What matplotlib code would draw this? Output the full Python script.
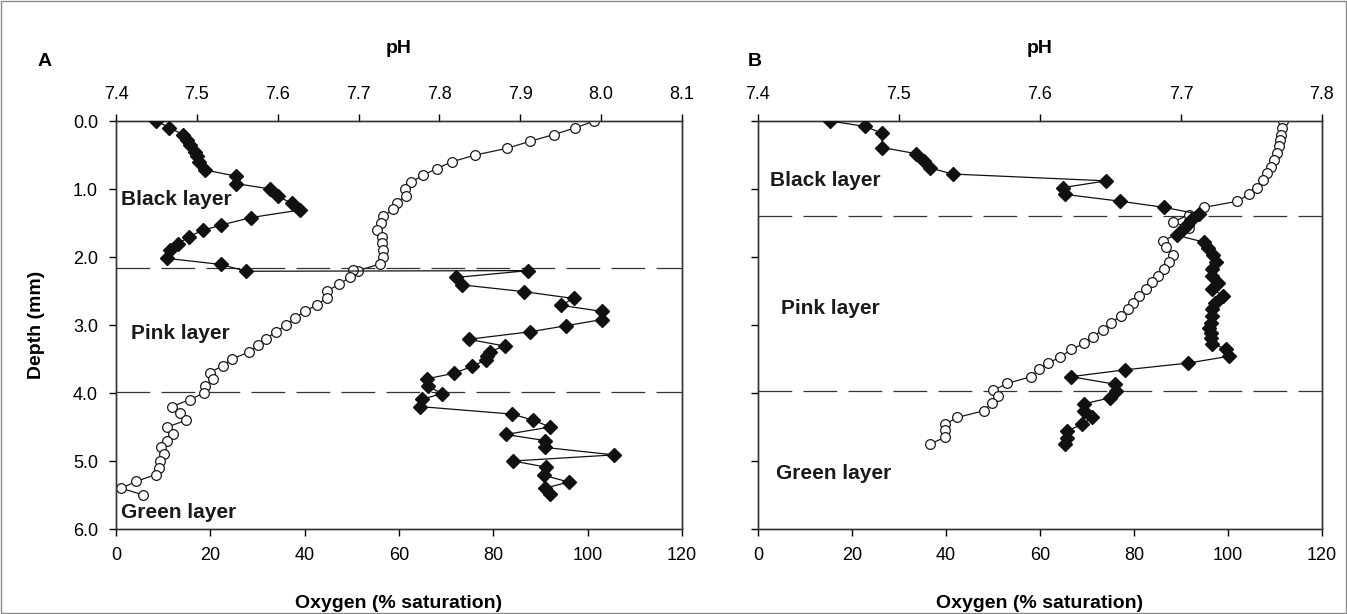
import matplotlib
matplotlib.use('Agg')
import matplotlib.pyplot as plt
from matplotlib.patches import Rectangle

plt.rcParams['font.family'] = ['Liberation Sans', 'DejaVu Sans']

# panel A - pH (filled diamonds, top axis)
a_ph_depth = [0.0, 0.1, 0.2, 0.28, 0.35, 0.45, 0.52, 0.6, 0.72, 0.81, 0.92, 1.0, 1.11, 1.21, 1.31,
              1.42, 1.53, 1.61, 1.70, 1.81, 1.90, 2.02, 2.11, 2.21, 2.20, 2.30, 2.41, 2.51, 2.61,
              2.71, 2.80, 2.92, 3.01, 3.10, 3.21, 3.31, 3.39, 3.46, 3.51, 3.61, 3.71, 3.79, 3.90,
              4.01, 4.09, 4.20, 4.31, 4.40, 4.50, 4.61, 4.70, 4.80, 4.91, 5.00, 5.09, 5.21, 5.31,
              5.40, 5.49]
a_ph = [7.450, 7.466, 7.483, 7.488, 7.492, 7.498, 7.500, 7.503, 7.510, 7.548, 7.548, 7.591, 7.600,
        7.618, 7.627, 7.567, 7.530, 7.507, 7.490, 7.477, 7.467, 7.463, 7.530, 7.561, 7.910, 7.821,
        7.828, 7.905, 7.966, 7.950, 8.001, 8.001, 7.957, 7.912, 7.836, 7.881, 7.862, 7.859, 7.858,
        7.840, 7.818, 7.785, 7.786, 7.803, 7.779, 7.776, 7.890, 7.916, 7.937, 7.882, 7.931, 7.930,
        8.016, 7.891, 7.932, 7.929, 7.960, 7.930, 7.937]

# panel A - oxygen (open circles, bottom axis)
a_o2_depth = [0.0, 0.1, 0.2, 0.3, 0.4, 0.5, 0.6, 0.7, 0.8, 0.9, 1.0, 1.1, 1.2, 1.3, 1.4, 1.5, 1.6,
              1.7, 1.8, 1.9, 2.0, 2.1, 2.2, 2.19, 2.3, 2.4, 2.5, 2.6, 2.7, 2.8, 2.9, 3.0, 3.1, 3.2,
              3.3, 3.4, 3.5, 3.6, 3.7, 3.8, 3.9, 4.0, 4.1, 4.2, 4.3, 4.4, 4.5, 4.6, 4.7, 4.8, 4.9,
              5.0, 5.1, 5.2, 5.3, 5.4, 5.5]
a_o2 = [101.4, 97.4, 92.8, 87.7, 83.0, 76.2, 71.2, 68.0, 65.0, 62.6, 61.3, 61.5, 59.6, 58.7, 56.7,
        56.2, 55.3, 56.4, 56.5, 56.7, 56.7, 56.0, 51.4, 50.3, 49.6, 47.3, 44.8, 44.7, 42.7, 40.0,
        37.9, 36.0, 34.0, 31.8, 30.1, 28.1, 24.6, 22.6, 19.9, 20.5, 18.8, 18.7, 15.6, 11.8, 13.5,
        14.9, 10.9, 12.0, 10.9, 9.5, 10.1, 9.4, 9.2, 8.4, 4.3, 1.1, 5.8]

# panel B - pH
b_ph_depth = [0.0, 0.08, 0.18, 0.39, 0.48, 0.59, 0.69, 0.78, 0.88, 0.98, 1.08, 1.18, 1.27, 1.37,
              1.46, 1.53, 1.58, 1.68, 1.78, 1.87, 1.97, 2.08, 2.18, 2.28, 2.38, 2.47, 2.57, 2.67,
              2.77, 2.87, 2.97, 3.04, 3.12, 3.19, 3.28, 3.35, 3.46, 3.56, 3.66, 3.76, 3.87, 3.97,
              4.07, 4.16, 4.26, 4.36, 4.46, 4.56, 4.66, 4.75]
b_ph = [7.451, 7.476, 7.488, 7.488, 7.512, 7.518, 7.522, 7.538, 7.647, 7.616, 7.618, 7.657, 7.688,
        7.713, 7.707, 7.704, 7.702, 7.697, 7.716, 7.719, 7.723, 7.725, 7.722, 7.722, 7.726, 7.722,
        7.730, 7.724, 7.722, 7.722, 7.721, 7.720, 7.721, 7.721, 7.722, 7.732, 7.734, 7.705, 7.660,
        7.622, 7.653, 7.654, 7.650, 7.631, 7.631, 7.637, 7.630, 7.619, 7.619, 7.618]

# panel B - oxygen
b_o2_depth = [0.0, 0.1, 0.2, 0.28, 0.37, 0.47, 0.57, 0.67, 0.77, 0.87, 0.98, 1.08, 1.18, 1.27,
              1.38, 1.48, 1.58, 1.76, 1.86, 1.97, 2.07, 2.18, 2.28, 2.37, 2.47, 2.57, 2.67, 2.76,
              2.87, 2.97, 3.07, 3.17, 3.27, 3.36, 3.47, 3.56, 3.65, 3.76, 3.86, 3.96, 4.05, 4.15,
              4.26, 4.36, 4.46, 4.55, 4.65, 4.75]
b_o2 = [111.6, 111.5, 111.2, 111.1, 110.9, 110.4, 109.8, 109.1, 108.2, 107.4, 106.1, 104.4, 102.0,
        94.9, 91.8, 88.3, 91.8, 86.2, 86.8, 88.4, 87.5, 86.4, 85.0, 83.8, 82.6, 81.1, 79.7, 78.7,
        77.2, 75.0, 73.5, 71.2, 69.4, 66.7, 64.3, 61.8, 59.8, 58.1, 53.0, 50.1, 51.0, 49.7, 48.1,
        42.4, 39.8, 39.8, 39.8, 36.6]

a_bounds = [2.16, 3.99]
b_bounds = [1.40, 3.97]
a_layers = [(1.1, 1.16, 'Black layer'), (3.2, 3.13, 'Pink layer'), (1.1, 5.75, 'Green layer')]
b_layers = [(2.6, 0.87, 'Black layer'), (4.9, 2.75, 'Pink layer'), (3.8, 5.18, 'Green layer')]

W, H = 1347, 614
fig = plt.figure(figsize=(W / 100, H / 100), dpi=100)
fig.patches.append(Rectangle((0.001, 0.002), 0.998, 0.996, transform=fig.transFigure,
                             fill=False, ec='#8a8a8a', lw=1.0))


def panel(left, right, ph_max, ph_d, ph, o2_d, o2, bounds, layers, letter, letter_x, ylabels):
    ax = fig.add_axes([left / W, 1 - 529 / H, (right - left) / W, (529 - 121) / H])
    ax.set_xlim(0, 120)
    ax.set_ylim(6, 0)
    ax.set_xticks(range(0, 121, 20))
    ax.set_yticks(range(0, 7))
    if ylabels:
        ax.set_yticklabels(['%.1f' % v for v in range(0, 7)])
        ax.set_ylabel('Depth (mm)', fontsize=14, fontweight='bold', labelpad=20)
    else:
        ax.set_yticklabels([])
    ax.set_xlabel('Oxygen (% saturation)', fontsize=14, fontweight='bold', labelpad=22)
    ax.tick_params(direction='out', length=5, width=1, labelsize=13, pad=8)
    ax.plot(o2, o2_d, '-o', color='#1a1a1a', mfc='white', mec='#1a1a1a', ms=7, mew=0.9, lw=0.9,
            zorder=3)
    for b in bounds:
        ax.axhline(b, color='#333333', lw=0.9, ls=(0, (27, 9)), zorder=1)
    for x, y, s in layers:
        ax.text(x, y, s, fontsize=15, fontweight='bold', color='#1a1a1a', va='center',
                ha='left')

    ax2 = ax.twiny()
    ax2.set_xlim(7.4, ph_max)
    n = int(round((ph_max - 7.4) / 0.1))
    ticks = [7.4 + 0.1 * i for i in range(n + 1)]
    ax2.set_xticks(ticks)
    ax2.set_xticklabels(['%.1f' % t for t in ticks])
    ax2.set_xlabel('pH', fontsize=14, fontweight='bold', labelpad=24)
    ax2.tick_params(direction='out', length=5, width=1, labelsize=13, pad=8)
    ax2.plot(ph, ph_d, '-D', color='#111111', ms=7, lw=0.9, zorder=3)
    for a in (ax, ax2):
        for sp in a.spines.values():
            sp.set_color('#333333')
            sp.set_linewidth(1.0)
    fig.text(letter_x / W, 1 - 62 / H, letter, fontsize=14, fontweight='bold',
             ha='left', va='center')


panel(116, 682, 8.1, a_ph_depth, a_ph, a_o2_depth, a_o2, a_bounds, a_layers, 'A', 38, True)
panel(758, 1322, 7.8, b_ph_depth, b_ph, b_o2_depth, b_o2, b_bounds, b_layers, 'B', 748, False)

plt.savefig('out.png', dpi=100)
